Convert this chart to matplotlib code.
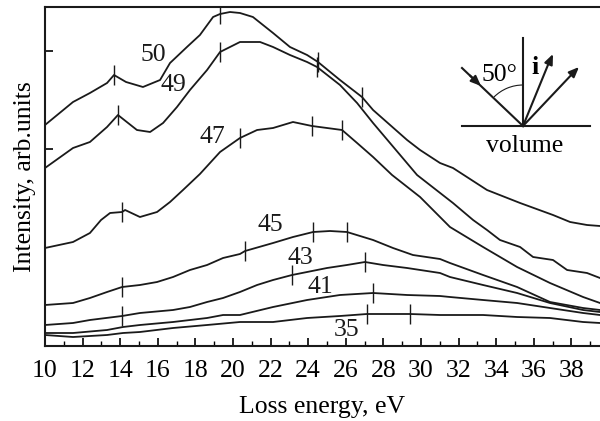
import matplotlib
matplotlib.use("Agg")
import matplotlib.pyplot as plt
from matplotlib.patches import Arc
from matplotlib.transforms import IdentityTransform
from matplotlib.ticker import MultipleLocator

plt.rcParams['font.family'] = ['Liberation Serif', 'DejaVu Serif']

# ---- data (Loss energy in eV, intensity in arb. units) ----
e50 = [10.00, 11.49, 12.39, 13.30, 13.67, 14.31, 15.21, 16.12, 16.65, 17.55, 18.24, 18.94, 19.31, 19.84,
       20.37, 21.06, 22.13, 23.03, 23.94, 24.52, 25.69, 26.86, 27.45, 29.26, 29.95, 31.01, 31.70, 33.51,
       35.27, 37.02, 37.93, 38.83, 39.52]
i50 = [2.21, 2.44, 2.53, 2.63, 2.71, 2.64, 2.59, 2.66, 2.83, 2.99, 3.11, 3.29, 3.32, 3.34,
       3.33, 3.29, 3.13, 2.99, 2.91, 2.84, 2.66, 2.49, 2.36, 2.06, 1.96, 1.83, 1.78, 1.56,
       1.43, 1.31, 1.24, 1.21, 1.20]

e49 = [10.00, 11.49, 12.39, 13.30, 13.88, 14.89, 15.59, 16.28, 17.02, 17.71, 18.62, 19.31, 20.37, 21.44,
       22.13, 23.03, 23.94, 24.47, 25.69, 26.60, 27.45, 28.35, 29.79, 31.70, 32.77, 33.51, 34.20, 35.27,
       35.96, 37.02, 37.77, 38.83, 39.52]
i49 = [1.78, 1.98, 2.04, 2.19, 2.31, 2.16, 2.14, 2.23, 2.39, 2.56, 2.76, 2.94, 3.04, 3.04,
       2.99, 2.91, 2.84, 2.79, 2.61, 2.43, 2.23, 2.03, 1.71, 1.43, 1.26, 1.16, 1.06, 0.99,
       0.89, 0.86, 0.76, 0.73, 0.68]

e47 = [10.00, 11.49, 12.39, 12.98, 13.46, 14.10, 14.26, 15.05, 15.96, 16.65, 17.34, 18.24, 19.31, 20.37,
       21.28, 22.13, 23.19, 24.20, 25.00, 25.80, 26.60, 27.45, 28.46, 29.95, 31.54, 33.30, 35.11, 36.86,
       38.62, 39.52]
i47 = [0.98, 1.04, 1.13, 1.26, 1.33, 1.34, 1.36, 1.29, 1.34, 1.44, 1.56, 1.72, 1.94, 2.08,
       2.16, 2.18, 2.24, 2.20, 2.18, 2.16, 2.03, 1.89, 1.71, 1.49, 1.19, 0.99, 0.79, 0.63,
       0.49, 0.43]

e45 = [10.00, 11.49, 12.39, 13.30, 14.10, 15.05, 15.96, 16.81, 17.71, 18.62, 19.47, 20.37, 20.64, 22.13,
       23.19, 24.26, 25.16, 26.06, 27.45, 28.51, 29.57, 31.01, 31.54, 33.30, 35.11, 36.86, 38.62, 39.52]
i45 = [0.41, 0.43, 0.48, 0.54, 0.59, 0.61, 0.64, 0.69, 0.76, 0.81, 0.88, 0.92, 0.95, 1.03,
       1.09, 1.14, 1.15, 1.14, 1.06, 0.98, 0.91, 0.87, 0.83, 0.71, 0.59, 0.44, 0.38, 0.36]

e43 = [10.00, 11.49, 12.39, 14.10, 15.05, 16.81, 17.71, 18.62, 19.47, 20.37, 21.28, 22.13, 23.14, 23.94,
       25.00, 26.06, 27.02, 27.98, 29.26, 31.01, 31.54, 33.30, 35.11, 36.86, 38.62, 39.52]
i43 = [0.21, 0.23, 0.26, 0.30, 0.33, 0.36, 0.39, 0.44, 0.48, 0.54, 0.61, 0.66, 0.71, 0.74,
       0.78, 0.81, 0.84, 0.81, 0.78, 0.73, 0.69, 0.61, 0.53, 0.43, 0.36, 0.34]

e41 = [10.00, 11.49, 13.30, 14.15, 15.05, 16.81, 18.62, 19.47, 20.37, 22.13, 23.94, 25.69, 27.45, 29.26,
       31.01, 31.54, 33.30, 35.11, 36.86, 38.62, 39.52]
i41 = [0.13, 0.13, 0.16, 0.19, 0.21, 0.24, 0.28, 0.31, 0.31, 0.39, 0.46, 0.51, 0.53, 0.51,
       0.50, 0.49, 0.46, 0.43, 0.38, 0.33, 0.31]

e35 = [10.00, 11.49, 13.30, 14.15, 15.05, 16.81, 18.62, 20.37, 22.13, 23.94, 25.69, 27.13, 29.41, 31.01,
       31.54, 33.30, 35.11, 36.86, 38.62, 39.52]
i35 = [0.11, 0.09, 0.11, 0.13, 0.14, 0.18, 0.21, 0.24, 0.24, 0.28, 0.30, 0.32, 0.32, 0.31,
       0.31, 0.31, 0.29, 0.28, 0.24, 0.23]

# vertical tick marks on the curves
marks_e = {'50': [13.67, 19.31, 24.52, 26.86], '49': [13.88, 19.31, 24.47],
           '47': [14.10, 20.37, 24.20, 25.80], '45': [14.10, 20.64, 24.26, 26.06],
           '43': [14.10, 23.14, 27.02], '41': [27.45], '35': [27.13, 29.41]}
marks_i = {'50': [2.71, 3.32, 2.84, 2.49], '49': [2.31, 2.94, 2.79],
           '47': [1.34, 2.08, 2.20, 2.16], '45': [0.59, 0.95, 1.14, 1.14],
           '43': [0.30, 0.71, 0.84], '41': [0.53], '35': [0.32, 0.32]}

labels = ['50', '49', '47', '45', '43', '41', '35']
label_e = [15.74, 16.81, 18.88, 21.97, 23.56, 24.63, 26.06]
label_i = [2.91, 2.61, 2.09, 1.21, 0.88, 0.59, 0.16]

xticks = list(range(10, 40, 2))

FS = 18.5

# ---- figure ----
W, H = 600, 421
fig = plt.figure(figsize=(W / 100, H / 100), dpi=100)
ax = fig.add_axes([45 / W, (H - 346) / H, 555 / W, 339 / H])

series = [(e50, i50), (e49, i49), (e47, i47), (e45, i45), (e43, i43), (e41, i41), (e35, i35)]
for (e, i) in series:
    ax.plot(e, i, color='#1a1a1a', lw=1.3)
for k in labels:
    ax.plot(marks_e[k], marks_i[k], ls='none', marker='|', ms=14, mew=1.0, color='#1a1a1a')
for lab, xe, yi in zip(labels, label_e, label_i):
    ax.text(xe, yi, lab, fontsize=FS, ha='center', va='center', color='#1a1a1a')

ax.set_xlim(10, 39.52)
ax.set_ylim(0, 3.39)
ax.set_xticks(xticks)
ax.xaxis.set_minor_locator(MultipleLocator(1))
ax.set_yticks([1.97, 2.95])
ax.set_yticklabels([])
ax.tick_params(axis='x', which='major', direction='in', length=6, width=1.2, labelsize=FS, pad=10)
ax.tick_params(axis='x', which='minor', direction='in', length=3.5, width=1.0)
ax.tick_params(axis='y', which='major', direction='in', length=6, width=1.2)
ax.spines['right'].set_visible(False)
for s in ['left', 'bottom', 'top']:
    ax.spines[s].set_linewidth(1.5)
    ax.spines[s].set_color('#1a1a1a')
ax.set_xlabel('Loss energy, eV', fontsize=FS, labelpad=10)
ax.set_ylabel('Intensity, arb.units', fontsize=FS, labelpad=3)

# ---- inset geometry sketch (pixel coordinates, y from top) ----
T = IdentityTransform()
def P(x, y):
    return (x, H - y)

def seg(p0, p1, lw=1.5):
    fig.add_artist(plt.Line2D([P(*p0)[0], P(*p1)[0]], [P(*p0)[1], P(*p1)[1]],
                              transform=T, color='#1a1a1a', lw=lw))

seg((462, 126), (590, 126))          # surface
seg((523, 38), (523, 126))           # normal
seg((462, 68), (523, 126))           # incoming beam
seg((523, 126), (550, 60))           # outgoing i
seg((523, 126), (575, 71))           # outgoing
arrow = dict(arrowstyle='-|>,head_length=0.6,head_width=0.25', color='#1a1a1a', lw=1.5,
             shrinkA=0, shrinkB=0)
ax.annotate('', xy=P(481, 86), xytext=P(470, 75.5), xycoords=T, textcoords=T, arrowprops=arrow)
ax.annotate('', xy=P(553, 54), xytext=P(549, 63), xycoords=T, textcoords=T, arrowprops=arrow)
ax.annotate('', xy=P(579, 67), xytext=P(572, 74), xycoords=T, textcoords=T, arrowprops=arrow)
fig.add_artist(Arc(P(523, 126), 82, 82, theta1=90, theta2=135, transform=T, color='#1a1a1a', lw=0.8))
fig.text(*P(499, 75), '50°', transform=T, fontsize=FS, ha='center', va='center')
fig.text(*P(535, 67), 'i', transform=T, fontsize=FS, fontweight='bold', ha='center', va='center')
fig.text(*P(525, 146), 'volume', transform=T, fontsize=FS, ha='center', va='center')

fig.savefig('out.png', dpi=100)
